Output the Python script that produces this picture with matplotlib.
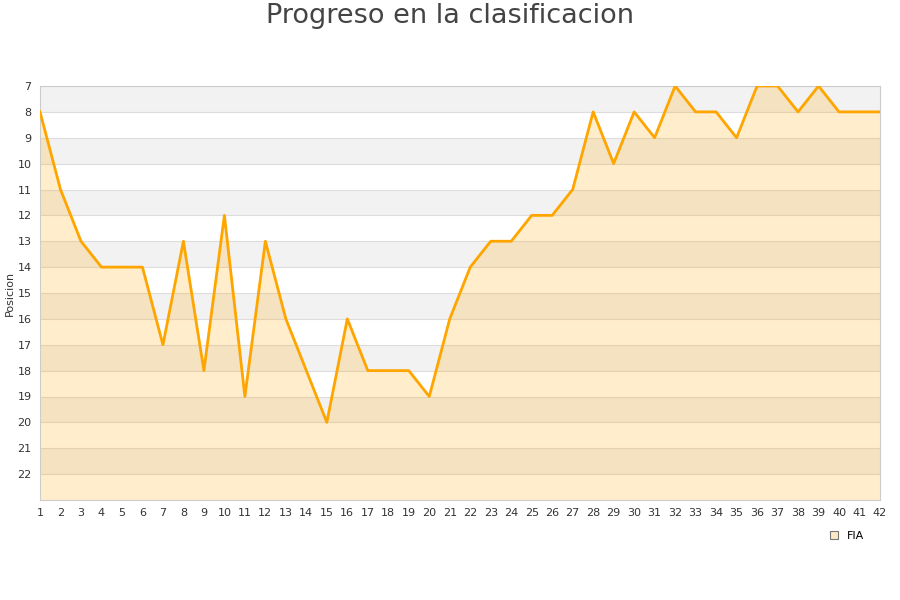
import matplotlib.pyplot as plt
from matplotlib.patches import Patch

# race number and position after each race
races = list(range(1, 43))
position = [8, 11, 13, 14, 14, 14, 17, 13, 18, 12, 19, 13, 16, 18, 20, 16, 18, 18, 18, 19,
            16, 14, 13, 13, 12, 12, 11, 8, 10, 8, 9, 7, 8, 8, 9, 7, 7, 8, 7, 8, 8, 8]
y_ticks = list(range(7, 23))
y_min, y_max = 7, 23

fig = plt.figure(figsize=(9, 6), dpi=100)
ax = fig.add_axes([40 / 900, 1 - 500 / 600, 840 / 900, 414 / 600])

# alternating horizontal bands
for y in range(y_min, y_max):
    if (y - y_min) % 2 == 0:
        ax.axhspan(y, y + 1, color="#f2f2f2", lw=0, zorder=0)
for y in range(y_min, y_max + 1):
    ax.axhline(y, color="#dddddd", lw=0.8, zorder=1)

ax.fill_between(races, position, y_max, color="#ffa500", alpha=0.2, lw=0, zorder=2)
ax.plot(races, position, color="#ffa500", lw=2, zorder=3)

ax.set_xlim(1, 42)
ax.set_ylim(y_max, y_min)
ax.set_xticks(races)
ax.set_yticks(y_ticks)
ax.tick_params(length=0, labelsize=8, colors="#333333", pad=6)
ax.set_ylabel("Posicion", fontsize=8, color="#333333", labelpad=2)
for s in ax.spines.values():
    s.set_color("#cccccc")

fig.text(0.5, 1 - 16 / 600, "Progreso en la clasificacion", fontsize=19.5,
         color="#444444", ha="center", va="center")

fig.legend(handles=[Patch(facecolor="#fde9c6", edgecolor="#777777", lw=0.8, label="FIA")],
           loc="center", bbox_to_anchor=(847 / 900, 1 - 536 / 600), frameon=False,
           fontsize=8, handlelength=0.7, handleheight=0.7, handletextpad=0.8)

fig.savefig("out.png", dpi=100)
